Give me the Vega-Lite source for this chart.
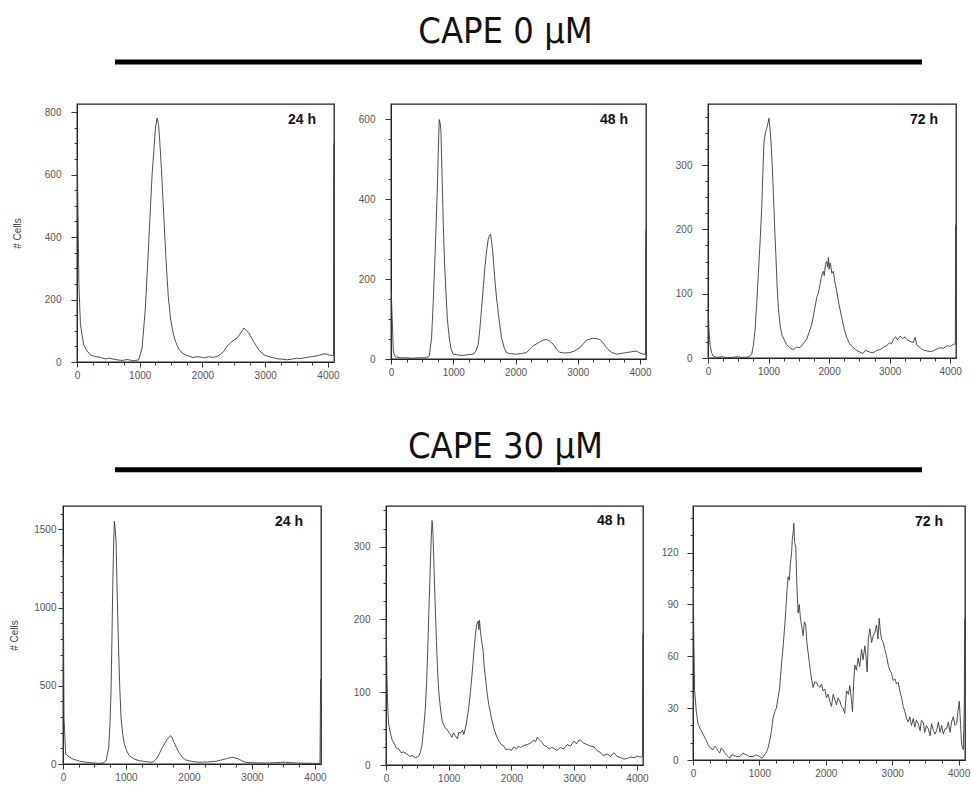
{
  "$schema": "https://vega.github.io/schema/vega-lite/v6.json",
  "padding": 0,
  "background": "white",
  "config": {
    "view": {"stroke": null},
    "axis": {"grid": false, "domainColor": "#222", "domainWidth": 1, "tickColor": "#333", "labelColor": "#555", "labelFont": "Liberation Sans", "labelFontSize": 10, "titleFont": "Liberation Sans", "titleFontWeight": "normal", "titleColor": "#444", "titleFontSize": 10, "labelFlush": false, "labelOverlap": false},
    "title": {"font": "Liberation Sans", "fontSize": 14, "fontWeight": "bold", "color": "#111", "anchor": "end", "frame": "group", "offset": 0, "baseline": "alphabetic", "dy": 27, "dx": -18}
  },
  "datasets": {
    "d1": [{"x":0,"y":0},{"x":4,"y":660},{"x":30,"y":250},{"x":55,"y":120},{"x":106,"y":55},{"x":160,"y":35},{"x":213,"y":23},{"x":280,"y":18},{"x":372,"y":15},{"x":450,"y":10},{"x":520,"y":12},{"x":638,"y":7},{"x":720,"y":5},{"x":800,"y":8},{"x":904,"y":4},{"x":984,"y":7},{"x":1037,"y":45},{"x":1090,"y":173},{"x":1144,"y":386},{"x":1197,"y":600},{"x":1250,"y":749},{"x":1277,"y":781},{"x":1300,"y":760},{"x":1319,"y":706},{"x":1345,"y":620},{"x":1372,"y":514},{"x":1400,"y":400},{"x":1426,"y":301},{"x":1455,"y":210},{"x":1489,"y":141},{"x":1530,"y":95},{"x":1569,"y":66},{"x":1620,"y":42},{"x":1676,"y":29},{"x":1740,"y":22},{"x":1800,"y":18},{"x":1850,"y":14},{"x":1910,"y":17},{"x":1968,"y":16},{"x":2030,"y":13},{"x":2100,"y":17},{"x":2170,"y":15},{"x":2234,"y":18},{"x":2290,"y":25},{"x":2340,"y":34},{"x":2390,"y":50},{"x":2447,"y":61},{"x":2500,"y":70},{"x":2553,"y":77},{"x":2600,"y":90},{"x":2640,"y":102},{"x":2660,"y":109},{"x":2700,"y":100},{"x":2739,"y":93},{"x":2790,"y":74},{"x":2846,"y":55},{"x":2900,"y":38},{"x":2979,"y":23},{"x":3050,"y":18},{"x":3138,"y":13},{"x":3200,"y":10},{"x":3280,"y":9},{"x":3351,"y":7},{"x":3420,"y":9},{"x":3500,"y":12},{"x":3564,"y":11},{"x":3640,"y":14},{"x":3700,"y":16},{"x":3777,"y":18},{"x":3850,"y":21},{"x":3936,"y":26},{"x":3980,"y":25},{"x":4030,"y":22},{"x":4069,"y":21},{"x":4088,"y":21},{"x":4093,"y":700}],
    "d2": [{"x":0,"y":0},{"x":3,"y":170},{"x":15,"y":120},{"x":37,"y":20},{"x":60,"y":8},{"x":91,"y":5},{"x":150,"y":3},{"x":251,"y":3},{"x":350,"y":2},{"x":450,"y":3},{"x":572,"y":3},{"x":615,"y":8},{"x":652,"y":53},{"x":680,"y":150},{"x":706,"y":253},{"x":725,"y":340},{"x":743,"y":420},{"x":760,"y":520},{"x":775,"y":599},{"x":790,"y":590},{"x":802,"y":570},{"x":820,"y":460},{"x":840,"y":337},{"x":860,"y":240},{"x":882,"y":170},{"x":905,"y":100},{"x":936,"y":53},{"x":965,"y":25},{"x":1000,"y":12},{"x":1080,"y":10},{"x":1160,"y":9},{"x":1240,"y":11},{"x":1321,"y":12},{"x":1365,"y":20},{"x":1401,"y":37},{"x":1430,"y":80},{"x":1455,"y":128},{"x":1480,"y":175},{"x":1508,"y":228},{"x":1535,"y":270},{"x":1561,"y":299},{"x":1580,"y":308},{"x":1599,"y":312},{"x":1620,"y":290},{"x":1642,"y":253},{"x":1668,"y":200},{"x":1695,"y":153},{"x":1735,"y":100},{"x":1775,"y":53},{"x":1815,"y":30},{"x":1856,"y":16},{"x":1930,"y":13},{"x":2016,"y":12},{"x":2100,"y":14},{"x":2176,"y":16},{"x":2230,"y":24},{"x":2283,"y":33},{"x":2340,"y":38},{"x":2390,"y":43},{"x":2440,"y":47},{"x":2497,"y":49},{"x":2550,"y":45},{"x":2604,"y":37},{"x":2660,"y":24},{"x":2711,"y":17},{"x":2790,"y":15},{"x":2872,"y":16},{"x":2950,"y":20},{"x":3032,"y":28},{"x":3090,"y":38},{"x":3139,"y":47},{"x":3200,"y":50},{"x":3246,"y":52},{"x":3300,"y":51},{"x":3353,"y":49},{"x":3410,"y":40},{"x":3460,"y":28},{"x":3540,"y":17},{"x":3620,"y":12},{"x":3700,"y":14},{"x":3781,"y":16},{"x":3860,"y":18},{"x":3941,"y":20},{"x":4000,"y":15},{"x":4048,"y":12},{"x":4088,"y":12},{"x":4093,"y":320}],
    "d3": [{"x":0,"y":0},{"x":3,"y":78},{"x":15,"y":45},{"x":33,"y":21},{"x":60,"y":8},{"x":88,"y":3},{"x":150,"y":1},{"x":230,"y":2},{"x":308,"y":0.5},{"x":400,"y":1},{"x":480,"y":2},{"x":560,"y":1},{"x":639,"y":1},{"x":690,"y":3},{"x":721,"y":6},{"x":750,"y":20},{"x":776,"y":42},{"x":805,"y":85},{"x":831,"y":130},{"x":860,"y":180},{"x":887,"y":233},{"x":905,"y":285},{"x":925,"y":336},{"x":948,"y":350},{"x":969,"y":357},{"x":990,"y":365},{"x":1008,"y":373},{"x":1025,"y":355},{"x":1041,"y":336},{"x":1060,"y":300},{"x":1079,"y":259},{"x":1100,"y":205},{"x":1123,"y":156},{"x":1140,"y":115},{"x":1162,"y":78},{"x":1190,"y":52},{"x":1217,"y":37},{"x":1260,"y":28},{"x":1300,"y":21},{"x":1350,"y":16},{"x":1410,"y":13},{"x":1460,"y":17},{"x":1520,"y":16},{"x":1570,"y":22},{"x":1630,"y":29},{"x":1670,"y":40},{"x":1713,"y":52},{"x":1750,"y":70},{"x":1795,"y":94},{"x":1820,"y":100},{"x":1850,"y":114},{"x":1870,"y":125},{"x":1890,"y":131},{"x":1905,"y":135},{"x":1920,"y":128},{"x":1940,"y":145},{"x":1960,"y":150},{"x":1975,"y":142},{"x":1988,"y":156},{"x":2000,"y":138},{"x":2015,"y":148},{"x":2026,"y":145},{"x":2045,"y":132},{"x":2070,"y":135},{"x":2095,"y":118},{"x":2126,"y":104},{"x":2160,"y":85},{"x":2208,"y":63},{"x":2250,"y":45},{"x":2291,"y":32},{"x":2340,"y":22},{"x":2401,"y":16},{"x":2450,"y":12},{"x":2511,"y":9},{"x":2560,"y":7},{"x":2600,"y":12},{"x":2621,"y":11},{"x":2680,"y":9},{"x":2731,"y":8},{"x":2790,"y":12},{"x":2841,"y":13},{"x":2900,"y":17},{"x":2952,"y":19},{"x":3000,"y":24},{"x":3030,"y":22},{"x":3062,"y":29},{"x":3100,"y":33},{"x":3130,"y":28},{"x":3172,"y":34},{"x":3220,"y":30},{"x":3250,"y":33},{"x":3282,"y":29},{"x":3330,"y":26},{"x":3392,"y":24},{"x":3420,"y":32},{"x":3450,"y":20},{"x":3502,"y":16},{"x":3560,"y":12},{"x":3612,"y":11},{"x":3670,"y":10},{"x":3722,"y":11},{"x":3780,"y":14},{"x":3833,"y":16},{"x":3890,"y":15},{"x":3943,"y":19},{"x":4000,"y":18},{"x":4053,"y":21},{"x":4085,"y":22},{"x":4090,"y":207}],
    "d4": [{"x":0,"y":0},{"x":3,"y":1340},{"x":8,"y":900},{"x":16,"y":298},{"x":42,"y":64},{"x":100,"y":45},{"x":158,"y":32},{"x":260,"y":18},{"x":368,"y":11},{"x":470,"y":7},{"x":579,"y":4},{"x":640,"y":8},{"x":684,"y":21},{"x":726,"y":106},{"x":745,"y":250},{"x":763,"y":468},{"x":776,"y":780},{"x":789,"y":1106},{"x":803,"y":1400},{"x":816,"y":1553},{"x":829,"y":1500},{"x":842,"y":1426},{"x":860,"y":1100},{"x":879,"y":787},{"x":900,"y":500},{"x":921,"y":298},{"x":948,"y":190},{"x":974,"y":128},{"x":1010,"y":85},{"x":1053,"y":53},{"x":1130,"y":32},{"x":1211,"y":21},{"x":1320,"y":15},{"x":1421,"y":11},{"x":1460,"y":22},{"x":1500,"y":43},{"x":1540,"y":75},{"x":1579,"y":106},{"x":1620,"y":135},{"x":1658,"y":160},{"x":1690,"y":175},{"x":1711,"y":181},{"x":1740,"y":160},{"x":1763,"y":138},{"x":1800,"y":105},{"x":1842,"y":74},{"x":1890,"y":45},{"x":1947,"y":26},{"x":2050,"y":16},{"x":2158,"y":11},{"x":2300,"y":13},{"x":2421,"y":17},{"x":2500,"y":24},{"x":2579,"y":32},{"x":2640,"y":40},{"x":2684,"y":43},{"x":2740,"y":38},{"x":2789,"y":32},{"x":2840,"y":20},{"x":2895,"y":11},{"x":3000,"y":8},{"x":3100,"y":7},{"x":3211,"y":6},{"x":3350,"y":8},{"x":3450,"y":10},{"x":3526,"y":11},{"x":3620,"y":8},{"x":3737,"y":6},{"x":3870,"y":5},{"x":4000,"y":4},{"x":4080,"y":4},{"x":4090,"y":543}],
    "d5": [{"x":0,"y":0},{"x":3,"y":194},{"x":15,"y":120},{"x":30,"y":75},{"x":43,"y":56},{"x":70,"y":44},{"x":96,"y":35},{"x":130,"y":30},{"x":160,"y":24},{"x":202,"y":22},{"x":240,"y":17},{"x":280,"y":18},{"x":335,"y":15},{"x":380,"y":12},{"x":420,"y":13},{"x":468,"y":10},{"x":500,"y":11},{"x":521,"y":12},{"x":550,"y":18},{"x":574,"y":28},{"x":600,"y":50},{"x":628,"y":79},{"x":650,"y":120},{"x":670,"y":171},{"x":690,"y":230},{"x":707,"y":276},{"x":720,"y":310},{"x":734,"y":336},{"x":748,"y":320},{"x":761,"y":285},{"x":780,"y":230},{"x":803,"y":171},{"x":820,"y":135},{"x":840,"y":102},{"x":865,"y":80},{"x":894,"y":61},{"x":920,"y":55},{"x":947,"y":51},{"x":980,"y":48},{"x":1000,"y":45},{"x":1027,"y":42},{"x":1050,"y":38},{"x":1075,"y":44},{"x":1106,"y":40},{"x":1140,"y":36},{"x":1160,"y":45},{"x":1186,"y":44},{"x":1220,"y":48},{"x":1240,"y":42},{"x":1266,"y":51},{"x":1290,"y":62},{"x":1319,"y":79},{"x":1345,"y":100},{"x":1372,"y":125},{"x":1400,"y":155},{"x":1426,"y":180},{"x":1445,"y":193},{"x":1468,"y":198},{"x":1480,"y":186},{"x":1490,"y":199},{"x":1505,"y":184},{"x":1525,"y":170},{"x":1548,"y":157},{"x":1565,"y":135},{"x":1585,"y":120},{"x":1610,"y":100},{"x":1638,"y":83},{"x":1680,"y":65},{"x":1718,"y":51},{"x":1760,"y":40},{"x":1798,"y":33},{"x":1840,"y":28},{"x":1878,"y":26},{"x":1910,"y":21},{"x":1957,"y":22},{"x":2000,"y":20},{"x":2037,"y":25},{"x":2080,"y":22},{"x":2110,"y":26},{"x":2144,"y":24},{"x":2200,"y":27},{"x":2250,"y":28},{"x":2300,"y":30},{"x":2356,"y":34},{"x":2385,"y":32},{"x":2410,"y":38},{"x":2440,"y":35},{"x":2489,"y":31},{"x":2520,"y":27},{"x":2569,"y":25},{"x":2600,"y":22},{"x":2640,"y":24},{"x":2676,"y":23},{"x":2720,"y":20},{"x":2782,"y":24},{"x":2830,"y":22},{"x":2888,"y":28},{"x":2940,"y":26},{"x":2995,"y":33},{"x":3040,"y":29},{"x":3070,"y":34},{"x":3101,"y":34},{"x":3150,"y":30},{"x":3207,"y":28},{"x":3260,"y":26},{"x":3314,"y":25},{"x":3360,"y":20},{"x":3420,"y":17},{"x":3460,"y":13},{"x":3527,"y":15},{"x":3580,"y":12},{"x":3633,"y":17},{"x":3680,"y":12},{"x":3739,"y":10},{"x":3790,"y":8},{"x":3846,"y":9},{"x":3900,"y":11},{"x":3952,"y":10},{"x":4000,"y":12},{"x":4059,"y":11},{"x":4088,"y":11},{"x":4093,"y":180}],
    "d6": [{"x":0,"y":0},{"x":3,"y":110},{"x":12,"y":70},{"x":25,"y":40},{"x":50,"y":28},{"x":75,"y":21},{"x":110,"y":18},{"x":151,"y":15},{"x":190,"y":12},{"x":226,"y":9},{"x":260,"y":7},{"x":302,"y":6},{"x":330,"y":8},{"x":352,"y":7},{"x":380,"y":5},{"x":402,"y":4},{"x":425,"y":7},{"x":452,"y":6},{"x":480,"y":4},{"x":503,"y":3},{"x":530,"y":2},{"x":553,"y":1},{"x":580,"y":3},{"x":603,"y":3},{"x":650,"y":2},{"x":704,"y":2},{"x":750,"y":4},{"x":804,"y":3},{"x":850,"y":2},{"x":905,"y":2},{"x":950,"y":3},{"x":1005,"y":2},{"x":1040,"y":1},{"x":1080,"y":3},{"x":1110,"y":5},{"x":1131,"y":7},{"x":1160,"y":12},{"x":1181,"y":17},{"x":1205,"y":24},{"x":1231,"y":28},{"x":1255,"y":30},{"x":1281,"y":36},{"x":1305,"y":42},{"x":1332,"y":55},{"x":1358,"y":66},{"x":1382,"y":78},{"x":1400,"y":88},{"x":1415,"y":98},{"x":1432,"y":106},{"x":1450,"y":104},{"x":1467,"y":114},{"x":1485,"y":120},{"x":1497,"y":129},{"x":1510,"y":132},{"x":1518,"y":137},{"x":1530,"y":126},{"x":1548,"y":123},{"x":1565,"y":100},{"x":1583,"y":85},{"x":1600,"y":90},{"x":1618,"y":82},{"x":1635,"y":78},{"x":1658,"y":72},{"x":1678,"y":80},{"x":1698,"y":78},{"x":1715,"y":68},{"x":1734,"y":62},{"x":1750,"y":57},{"x":1769,"y":51},{"x":1790,"y":46},{"x":1809,"y":42},{"x":1830,"y":45},{"x":1859,"y":45},{"x":1885,"y":43},{"x":1910,"y":42},{"x":1935,"y":44},{"x":1960,"y":40},{"x":1985,"y":41},{"x":2010,"y":36},{"x":2035,"y":38},{"x":2060,"y":34},{"x":2085,"y":31},{"x":2111,"y":38},{"x":2135,"y":35},{"x":2161,"y":32},{"x":2185,"y":36},{"x":2211,"y":34},{"x":2235,"y":31},{"x":2261,"y":30},{"x":2285,"y":27},{"x":2312,"y":40},{"x":2340,"y":38},{"x":2362,"y":43},{"x":2385,"y":35},{"x":2402,"y":28},{"x":2420,"y":45},{"x":2437,"y":55},{"x":2460,"y":52},{"x":2487,"y":59},{"x":2510,"y":54},{"x":2538,"y":64},{"x":2560,"y":58},{"x":2588,"y":66},{"x":2605,"y":60},{"x":2623,"y":51},{"x":2640,"y":70},{"x":2663,"y":76},{"x":2690,"y":68},{"x":2714,"y":72},{"x":2740,"y":74},{"x":2764,"y":78},{"x":2785,"y":70},{"x":2804,"y":82},{"x":2820,"y":75},{"x":2839,"y":70},{"x":2865,"y":68},{"x":2889,"y":64},{"x":2915,"y":60},{"x":2940,"y":55},{"x":2965,"y":52},{"x":2990,"y":50},{"x":3015,"y":46},{"x":3040,"y":47},{"x":3065,"y":44},{"x":3090,"y":45},{"x":3115,"y":40},{"x":3141,"y":36},{"x":3165,"y":31},{"x":3191,"y":28},{"x":3215,"y":24},{"x":3241,"y":22},{"x":3265,"y":25},{"x":3290,"y":20},{"x":3317,"y":24},{"x":3340,"y":19},{"x":3365,"y":23},{"x":3392,"y":21},{"x":3420,"y":17},{"x":3440,"y":23},{"x":3467,"y":22},{"x":3490,"y":16},{"x":3515,"y":20},{"x":3543,"y":18},{"x":3570,"y":14},{"x":3593,"y":21},{"x":3620,"y":17},{"x":3645,"y":15},{"x":3668,"y":17},{"x":3695,"y":22},{"x":3720,"y":16},{"x":3744,"y":20},{"x":3770,"y":15},{"x":3795,"y":18},{"x":3819,"y":18},{"x":3845,"y":22},{"x":3870,"y":16},{"x":3894,"y":22},{"x":3920,"y":25},{"x":3945,"y":20},{"x":3970,"y":21},{"x":3990,"y":28},{"x":4010,"y":34},{"x":4030,"y":20},{"x":4045,"y":9},{"x":4070,"y":6},{"x":4085,"y":30},{"x":4092,"y":82}]
  },
  "spacing": 0,
  "vconcat": [
    {
      "spacing": 0, "bounds": "flush",
      "hconcat": [
        {"width": 115, "height": 103, "data": {"values": []}, "mark": "point", "encoding": {}},
        {"width": 807, "height": 103, "data": {"values": [{"label": "CAPE 0 µM"}]},
         "layer": [
           {"mark": {"type": "text", "font": "Liberation Sans Narrow, DejaVu Sans Condensed, sans-serif", "fontSize": 36, "color": "#111", "dx": -13},
            "encoding": {"text": {"field": "label"}, "y": {"datum": 0.689, "type": "quantitative", "scale": {"domain": [0, 1], "nice": false, "zero": false}, "axis": null}}},
           {"mark": {"type": "rule", "strokeWidth": 5, "color": "#000"},
            "encoding": {"y": {"datum": 0.398, "type": "quantitative"}}}
         ]}
      ]
    },
    {
      "spacing": 0, "bounds": "flush",
      "hconcat": [
        {"width": 77, "height": 258, "data": {"values": []}, "mark": "point", "encoding": {}},
        {"width": 257, "height": 258, "view": {"stroke": "#222", "strokeWidth": 1.3},
         "title": {"text": "24 h"},
         "data": {"name": "d1"},
         "mark": {"type": "line", "color": "#3a3a3a", "strokeWidth": 0.9, "clip": true},
         "encoding": {
           "x": {"field": "x", "type": "quantitative", "scale": {"domain": [0, 4096], "nice": false, "zero": false},
                 "axis": {"title": null, "values": [0,250,500,750,1000,1250,1500,1750,2000,2250,2500,2750,3000,3250,3500,3750,4000], "format": "d", "labelExpr": "datum.value % 1000 === 0 ? datum.label : ''", "tickSize": {"condition": {"test": "datum.value % 1000 === 0", "value": 5}, "value": 3}, "labelPadding": 3}},
           "y": {"field": "y", "type": "quantitative", "scale": {"domain": [0, 826], "nice": false},
                 "axis": {"title": "# Cells", "titlePadding": 22, "values": [0,50,100,150,200,250,300,350,400,450,500,550,600,650,700,750,800], "format": "d", "labelExpr": "datum.value % 200 === 0 ? datum.label : ''", "tickSize": {"condition": {"test": "datum.value % 200 === 0", "value": 6}, "value": 3}, "labelPadding": 10}}
         }},
        {"width": 57, "height": 258, "data": {"values": []}, "mark": "point", "encoding": {}},
        {"width": 255, "height": 255, "view": {"stroke": "#222", "strokeWidth": 1.3},
         "title": {"text": "48 h"},
         "data": {"name": "d2"},
         "mark": {"type": "line", "color": "#3a3a3a", "strokeWidth": 0.9, "clip": true},
         "encoding": {
           "x": {"field": "x", "type": "quantitative", "scale": {"domain": [0, 4096], "nice": false, "zero": false},
                 "axis": {"title": null, "values": [0,250,500,750,1000,1250,1500,1750,2000,2250,2500,2750,3000,3250,3500,3750,4000], "format": "d", "labelExpr": "datum.value % 1000 === 0 ? datum.label : ''", "tickSize": {"condition": {"test": "datum.value % 1000 === 0", "value": 5}, "value": 3}, "labelPadding": 3}},
           "y": {"field": "y", "type": "quantitative", "scale": {"domain": [0, 638], "nice": false},
                 "axis": {"title": null, "values": [0,50,100,150,200,250,300,350,400,450,500,550,600], "format": "d", "labelExpr": "datum.value % 200 === 0 ? datum.label : ''", "tickSize": {"condition": {"test": "datum.value % 200 === 0", "value": 6}, "value": 3}, "labelPadding": 10}}
         }},
        {"width": 62, "height": 258, "data": {"values": []}, "mark": "point", "encoding": {}},
        {"width": 248, "height": 254, "view": {"stroke": "#222", "strokeWidth": 1.3},
         "title": {"text": "72 h"},
         "data": {"name": "d3"},
         "mark": {"type": "line", "color": "#3a3a3a", "strokeWidth": 0.9, "clip": true},
         "encoding": {
           "x": {"field": "x", "type": "quantitative", "scale": {"domain": [0, 4096], "nice": false, "zero": false},
                 "axis": {"title": null, "values": [0,250,500,750,1000,1250,1500,1750,2000,2250,2500,2750,3000,3250,3500,3750,4000], "format": "d", "labelExpr": "datum.value % 1000 === 0 ? datum.label : ''", "tickSize": {"condition": {"test": "datum.value % 1000 === 0", "value": 5}, "value": 3}, "labelPadding": 3}},
           "y": {"field": "y", "type": "quantitative", "scale": {"domain": [0, 395], "nice": false},
                 "axis": {"title": null, "values": [0,25,50,75,100,125,150,175,200,225,250,275,300,325,350,375], "format": "d", "labelExpr": "datum.value % 100 === 0 ? datum.label : ''", "tickSize": {"condition": {"test": "datum.value % 100 === 0", "value": 6}, "value": 3}, "labelPadding": 10}}
         }}
      ]
    },
    {
      "spacing": 0, "bounds": "flush",
      "hconcat": [
        {"width": 115, "height": 123, "data": {"values": []}, "mark": "point", "encoding": {}},
        {"width": 807, "height": 123, "data": {"values": [{"label": "CAPE 30 µM"}]},
         "layer": [
           {"mark": {"type": "text", "font": "Liberation Sans Narrow, DejaVu Sans Condensed, sans-serif", "fontSize": 36, "color": "#111", "dx": -13},
            "encoding": {"text": {"field": "label"}, "y": {"datum": 0.465, "type": "quantitative", "scale": {"domain": [0, 1], "nice": false, "zero": false}, "axis": null}}},
           {"mark": {"type": "rule", "strokeWidth": 5, "color": "#000"},
            "encoding": {"y": {"datum": 0.278, "type": "quantitative"}}}
         ]}
      ]
    },
    {
      "spacing": 0, "bounds": "flush",
      "hconcat": [
        {"width": 63, "height": 258, "data": {"values": []}, "mark": "point", "encoding": {}},
        {"width": 258, "height": 258, "view": {"stroke": "#222", "strokeWidth": 1.3},
         "title": {"text": "24 h"},
         "data": {"name": "d4"},
         "mark": {"type": "line", "color": "#3a3a3a", "strokeWidth": 0.9, "clip": true},
         "encoding": {
           "x": {"field": "x", "type": "quantitative", "scale": {"domain": [0, 4096], "nice": false, "zero": false},
                 "axis": {"title": null, "values": [0,250,500,750,1000,1250,1500,1750,2000,2250,2500,2750,3000,3250,3500,3750,4000], "format": "d", "labelExpr": "datum.value % 1000 === 0 ? datum.label : ''", "tickSize": {"condition": {"test": "datum.value % 1000 === 0", "value": 5}, "value": 3}, "labelPadding": 3}},
           "y": {"field": "y", "type": "quantitative", "scale": {"domain": [0, 1650], "nice": false},
                 "axis": {"title": "# Cells", "titlePadding": 14, "values": [0,100,200,300,400,500,600,700,800,900,1000,1100,1200,1300,1400,1500,1600], "format": "d", "labelExpr": "datum.value % 500 === 0 ? datum.label : ''", "tickSize": {"condition": {"test": "datum.value % 500 === 0", "value": 5}, "value": 3}, "labelPadding": 2}}
         }},
        {"width": 65, "height": 258, "data": {"values": []}, "mark": "point", "encoding": {}},
        {"width": 257, "height": 259, "view": {"stroke": "#222", "strokeWidth": 1.3},
         "title": {"text": "48 h"},
         "data": {"name": "d5"},
         "mark": {"type": "line", "color": "#3a3a3a", "strokeWidth": 0.9, "clip": true},
         "encoding": {
           "x": {"field": "x", "type": "quantitative", "scale": {"domain": [0, 4096], "nice": false, "zero": false},
                 "axis": {"title": null, "values": [0,250,500,750,1000,1250,1500,1750,2000,2250,2500,2750,3000,3250,3500,3750,4000], "format": "d", "labelExpr": "datum.value % 1000 === 0 ? datum.label : ''", "tickSize": {"condition": {"test": "datum.value % 1000 === 0", "value": 5}, "value": 3}, "labelPadding": 3}},
           "y": {"field": "y", "type": "quantitative", "scale": {"domain": [0, 356], "nice": false},
                 "axis": {"title": null, "values": [0,25,50,75,100,125,150,175,200,225,250,275,300,325,350], "format": "d", "labelExpr": "datum.value % 100 === 0 ? datum.label : ''", "tickSize": {"condition": {"test": "datum.value % 100 === 0", "value": 6}, "value": 3}, "labelPadding": 10}}
         }},
        {"width": 50, "height": 258, "data": {"values": []}, "mark": "point", "encoding": {}},
        {"width": 272, "height": 254, "view": {"stroke": "#222", "strokeWidth": 1.3},
         "title": {"text": "72 h", "dx": -22},
         "data": {"name": "d6"},
         "mark": {"type": "line", "color": "#3a3a3a", "strokeWidth": 0.9, "clip": true},
         "encoding": {
           "x": {"field": "x", "type": "quantitative", "scale": {"domain": [0, 4096], "nice": false, "zero": false},
                 "axis": {"title": null, "values": [0,250,500,750,1000,1250,1500,1750,2000,2250,2500,2750,3000,3250,3500,3750,4000], "format": "d", "labelExpr": "datum.value % 1000 === 0 ? datum.label : ''", "tickSize": {"condition": {"test": "datum.value % 1000 === 0", "value": 5}, "value": 3}, "labelPadding": 3}},
           "y": {"field": "y", "type": "quantitative", "scale": {"domain": [0, 147], "nice": false},
                 "axis": {"title": null, "values": [0,10,20,30,40,50,60,70,80,90,100,110,120,130,140], "format": "d", "labelExpr": "datum.value % 30 === 0 ? datum.label : ''", "tickSize": {"condition": {"test": "datum.value % 30 === 0", "value": 6}, "value": 3}, "labelPadding": 9}}
           }}
      ]
    }
  ]
}
